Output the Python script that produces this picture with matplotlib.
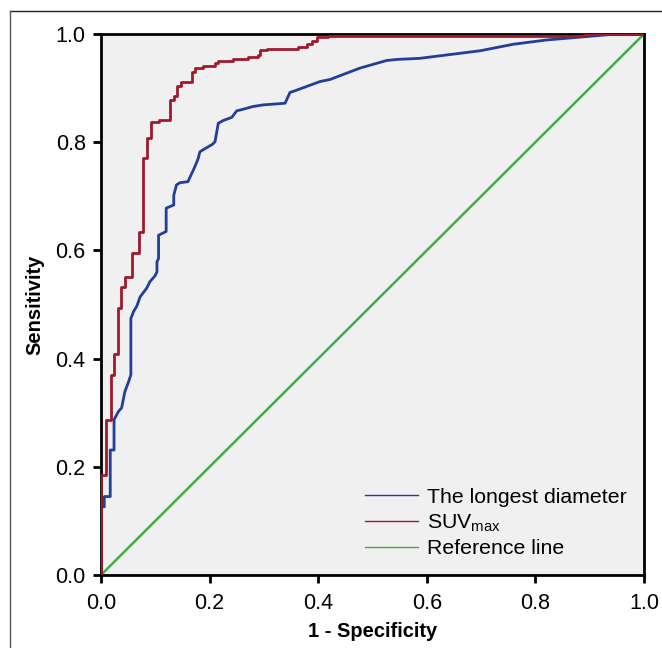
import matplotlib
matplotlib.use('Agg')
import matplotlib.pyplot as plt
from matplotlib.lines import Line2D

plt.rcParams['font.family'] = ['Liberation Sans', 'DejaVu Sans']
plt.rcParams['mathtext.fontset'] = 'custom'
plt.rcParams['mathtext.rm'] = 'Liberation Sans'

# ---- ROC points (1 - specificity, sensitivity) ----
diam_fpr = [0, 0, 0.006, 0.006, 0.017, 0.017, 0.024, 0.024, 0.032, 0.038, 0.041,
            0.044, 0.05, 0.055, 0.055, 0.06, 0.066, 0.072, 0.084, 0.09, 0.0995,
            0.103, 0.103, 0.106, 0.106, 0.12, 0.12, 0.134, 0.134, 0.139, 0.145,
            0.16, 0.167, 0.173, 0.179, 0.182, 0.188, 0.205, 0.21, 0.216, 0.225,
            0.241, 0.25, 0.262, 0.28, 0.299, 0.339, 0.348, 0.357, 0.403, 0.422,
            0.477, 0.526, 0.545, 0.587, 0.698, 0.759, 0.821, 0.95, 1.0]
diam_tpr = [0, 0.126, 0.126, 0.145, 0.145, 0.231, 0.231, 0.287, 0.302, 0.309, 0.324,
            0.339, 0.355, 0.37, 0.474, 0.487, 0.497, 0.514, 0.530, 0.542, 0.553,
            0.56, 0.579, 0.585, 0.628, 0.635, 0.678, 0.684, 0.702, 0.721, 0.725,
            0.727, 0.742, 0.755, 0.77, 0.782, 0.786, 0.796, 0.801, 0.835, 0.84,
            0.846, 0.858, 0.861, 0.866, 0.869, 0.872, 0.892, 0.895, 0.912, 0.916,
            0.937, 0.951, 0.953, 0.955, 0.969, 0.981, 0.989, 1.0, 1.0]

suv_fpr = [0, 0, 0.009, 0.009, 0.0175, 0.0175, 0.024, 0.024, 0.031, 0.031, 0.037,
           0.037, 0.044, 0.044, 0.058, 0.058, 0.0706, 0.0706, 0.078, 0.078, 0.084,
           0.084, 0.0915, 0.0915, 0.106, 0.106, 0.127, 0.127, 0.134, 0.134, 0.14,
           0.14, 0.147, 0.147, 0.167, 0.167, 0.173, 0.173, 0.188, 0.188, 0.21,
           0.21, 0.215, 0.215, 0.243, 0.243, 0.271, 0.271, 0.289, 0.289, 0.293,
           0.293, 0.305, 0.305, 0.363, 0.363, 0.379, 0.379, 0.389, 0.389, 0.398,
           0.398, 0.418, 0.418, 0.891, 0.891, 1.0]
suv_tpr = [0, 0.185, 0.185, 0.287, 0.287, 0.37, 0.37, 0.408, 0.408, 0.494, 0.494,
           0.532, 0.532, 0.551, 0.551, 0.595, 0.595, 0.634, 0.634, 0.771, 0.771,
           0.808, 0.808, 0.837, 0.837, 0.841, 0.841, 0.878, 0.878, 0.885, 0.885,
           0.903, 0.903, 0.911, 0.911, 0.930, 0.930, 0.937, 0.937, 0.941, 0.941,
           0.946, 0.946, 0.951, 0.951, 0.954, 0.954, 0.957, 0.957, 0.961, 0.961,
           0.970, 0.970, 0.972, 0.972, 0.976, 0.976, 0.981, 0.981, 0.987, 0.987,
           0.994, 0.994, 0.997, 0.997, 1.0, 1.0]

ref_x = [0, 1]
ref_y = [0, 1]

ticks = [0.0, 0.2, 0.4, 0.6, 0.8, 1.0]
tick_labels = ['0.0', '0.2', '0.4', '0.6', '0.8', '1.0']

fig = plt.figure(figsize=(6.62, 6.48), dpi=100)
ax = fig.add_axes([101 / 662, 1 - 575 / 648, 543 / 662, 541 / 648])
ax.set_facecolor('#f0f0f0')

ax.plot(diam_fpr, diam_tpr, color='#213f99', lw=2.0, label='The longest diameter', zorder=3)
ax.plot(suv_fpr, suv_tpr, color='#a01a2c', lw=2.0, label='SUV$_{\\mathregular{max}}$', zorder=4)
ax.plot(ref_x, ref_y, color='#3fae49', lw=1.8, label='Reference line', zorder=2)

ax.set_xlim(0, 1)
ax.set_ylim(0, 1)
ax.set_xticks(ticks)
ax.set_xticklabels(tick_labels)
ax.set_yticks(ticks)
ax.set_yticklabels(tick_labels)
ax.tick_params(axis='both', length=6, width=2, labelsize=15.5, direction='out', pad=5)
ax.tick_params(axis='x', pad=7)
for s in ax.spines.values():
    s.set_linewidth(2)
    s.set_color('black')

ax.set_xlabel('1 - Specificity', fontsize=14.5, fontweight='bold', labelpad=6)
ax.set_ylabel('Sensitivity', fontsize=14.5, fontweight='bold', labelpad=8)

leg = ax.legend(loc='lower right', bbox_to_anchor=(1.0, 0.0), frameon=False,
                fontsize=15.3, handlelength=2.5, handletextpad=0.45, labelspacing=0.25,
                borderaxespad=0.4)
for h in leg.get_lines():
    h.set_linewidth(1.0)

# outer frame of the original panel
fig.add_artist(Line2D([10 / 662, 1], [1 - 11 / 648, 1 - 11 / 648],
                      transform=fig.transFigure, color='#222222', lw=1.0))
fig.add_artist(Line2D([10 / 662, 10 / 662], [0, 1 - 11 / 648],
                      transform=fig.transFigure, color='#555555', lw=1.0))

fig.savefig('out.png', dpi=100)
